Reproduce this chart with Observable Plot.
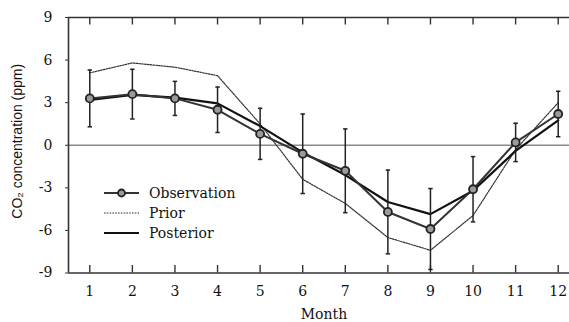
<!DOCTYPE html>
<html>
<head>
<meta charset="utf-8">
<script src="https://cdn.jsdelivr.net/npm/d3@7"></script>
<script src="https://cdn.jsdelivr.net/npm/@observablehq/plot@0.6"></script>
<style>
  html, body { margin: 0; padding: 0; background: #fff; overflow: hidden; }
  #chart { position: relative; width: 569px; height: 322px; overflow: hidden; }
  .legend { position: absolute; left: 104px; top: 183px; font: 14px "DejaVu Serif", serif; color: #111; }
  .legend .row { display: flex; align-items: center; height: 20px; }
  .legend svg { width: 35px; height: 12px; margin-right: 10px; display: block; }
</style>
</head>
<body>
<div id="chart"></div>
<script>
// Monthly CO2 concentration anomalies (ppm)
const months = [1, 2, 3, 4, 5, 6, 7, 8, 9, 10, 11, 12];
const observation = [3.3, 3.6, 3.3, 2.5, 0.8, -0.6, -1.8, -4.7, -5.9, -3.1, 0.2, 2.2];
const observationError = [2.0, 1.75, 1.2, 1.6, 1.8, 2.8, 2.95, 2.95, 2.85, 2.3, 1.35, 1.6];
const prior = [5.1, 5.8, 5.5, 4.9, 1.5, -2.4, -4.1, -6.5, -7.4, -4.95, -0.3, 3.0];
const posterior = [3.2, 3.55, 3.35, 2.95, 1.35, -0.5, -2.1, -4.0, -4.85, -3.2, -0.4, 1.75];
const yTicks = [-9, -6, -3, 0, 3, 6, 9];

const obsRows = months.map((m, i) => ({
  month: m, value: observation[i],
  lo: observation[i] - observationError[i], hi: observation[i] + observationError[i]
}));
const priorRows = months.map((m, i) => ({month: m, value: prior[i]}));
const postRows = months.map((m, i) => ({month: m, value: posterior[i]}));

// short horizontal stroke used as error-bar cap
const cap = {draw(ctx, size) { const w = Math.sqrt(size) / 2; ctx.moveTo(-w, 0); ctx.lineTo(w, 0); }};

const ink = "#222";
const serif = "DejaVu Serif";

const chart = Plot.plot({
  width: 569,
  height: 322,
  marginLeft: 68,
  marginRight: -10,
  marginTop: 17,
  marginBottom: 49.5,
  style: {fontFamily: serif, fontSize: "14px", color: "#111", background: "#fff"},
  x: {domain: [0.5, 12.5]},
  y: {domain: [-9, 9]},
  marks: [
    Plot.ruleY([0], {stroke: "#8a8a8a", strokeWidth: 1.5}),
    // frame: left, top and bottom edges
    Plot.ruleX([0.5], {stroke: "#333", strokeWidth: 1.6}),
    Plot.ruleY([-9, 9], {stroke: "#333", strokeWidth: 1.6}),
    // inward month ticks along bottom and top edges
    Plot.tickX(months, {x: d => d, insetTop: 248, stroke: "#333", strokeWidth: 1.4}),
    Plot.tickX(months, {x: d => d, insetBottom: 248, stroke: "#333", strokeWidth: 1.4}),
    // y axis: short outward ticks, then labels
    Plot.axisY({ticks: yTicks, tickSize: 3, text: null, label: null, stroke: "#333"}),
    Plot.axisY({ticks: yTicks, tickSize: 0, tickPadding: 16, tickFormat: d => String(d), label: null, fill: "#111", fontSize: 14, textAnchor: "end"}),
    Plot.axisX({ticks: months, tickSize: 0, tickPadding: 13, tickFormat: d => String(d), label: null, fill: "#111", fontSize: 14}),
    // series
    Plot.line(priorRows, {x: "month", y: "value", stroke: "#333", strokeWidth: 1.2, strokeDasharray: "1.6,1.2"}),
    Plot.line(postRows, {x: "month", y: "value", stroke: "#111", strokeWidth: 2.2, strokeLinejoin: "round"}),
    Plot.line(obsRows, {x: "month", y: "value", stroke: "#333", strokeWidth: 2, strokeLinejoin: "round"}),
    Plot.ruleX(obsRows, {x: "month", y1: "lo", y2: "hi", stroke: ink, strokeWidth: 1.5}),
    Plot.dot(obsRows, {x: "month", y: "hi", symbol: cap, r: 2.5, stroke: ink, strokeWidth: 1.5}),
    Plot.dot(obsRows, {x: "month", y: "lo", symbol: cap, r: 2.5, stroke: ink, strokeWidth: 1.5}),
    Plot.dot(obsRows, {x: "month", y: "value", r: 4, fill: "#9a9a9a", stroke: ink, strokeWidth: 1.8}),
    // axis titles
    Plot.text(["Month"], {text: d => d, frameAnchor: "bottom", lineAnchor: "bottom", dy: 46, fontFamily: serif, fontSize: 14, fill: "#111"}),
    Plot.text(["CO₂ concentration (ppm)"], {text: d => d, frameAnchor: "left", textAnchor: "middle", lineAnchor: "middle", rotate: -90, dx: -51, dy: -4, fontFamily: "Liberation Sans", fontSize: 14, fill: "#111"})
  ]
});

const host = document.getElementById("chart");
host.appendChild(chart);

// legend
const legend = document.createElement("div");
legend.className = "legend";
legend.innerHTML = `
  <div class="row"><svg viewBox="0 0 35 12"><line x1="0" y1="6" x2="35" y2="6" stroke="#333" stroke-width="2"/><circle cx="17.5" cy="6" r="3.5" fill="#9a9a9a" stroke="#222" stroke-width="1.8"/></svg><span>Observation</span></div>
  <div class="row"><svg viewBox="0 0 35 12"><line x1="0" y1="6" x2="35" y2="6" stroke="#333" stroke-width="1.2" stroke-dasharray="1.6,1.2"/></svg><span>Prior</span></div>
  <div class="row"><svg viewBox="0 0 35 12"><line x1="0" y1="6" x2="35" y2="6" stroke="#111" stroke-width="2.2"/></svg><span>Posterior</span></div>`;
host.appendChild(legend);
</script>
</body>
</html>
